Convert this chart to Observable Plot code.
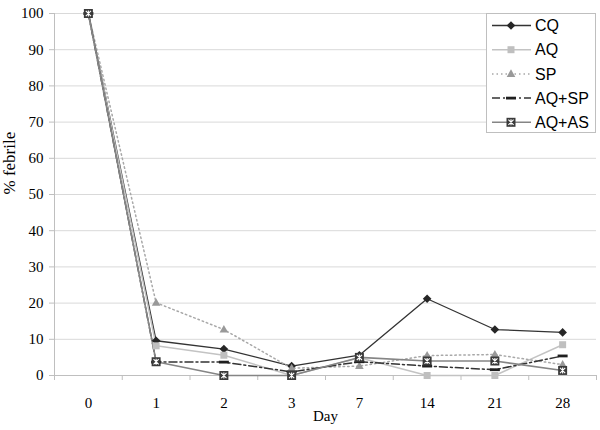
<!DOCTYPE html>
<html><head><meta charset="utf-8">
<script src="https://cdn.jsdelivr.net/npm/d3@7"></script>
<script src="https://cdn.jsdelivr.net/npm/@observablehq/plot@0.6"></script>
<style>
body{margin:0;background:#fff}
#wrap{position:relative;width:600px;height:430px;overflow:hidden}
#legend{position:absolute;left:486px;top:13px}
</style></head><body><div id="wrap"></div>
<script>
// ---- data ----
const days = ["0","1","2","3","7","14","21","28"];
const seriesNames = ["CQ","AQ","SP","AQ+SP","AQ+AS"];
const cq   = [100, 9.6, 7.3, 2.6, 5.6, 21.2, 12.7, 11.9];
const aq   = [100, 8.2, 5.6, 0.0, 4.9, 0.0, 0.0, 8.5];
const sp   = [100, 20.1, 12.7, 2.0, 2.6, 5.5, 5.8, 3.0];
const aqsp = [100, 3.7, 3.7, 1.0, 3.8, 2.6, 1.6, 5.4];
const aqas = [100, 3.8, 0.0, 0.0, 5.0, 4.0, 4.0, 1.4];
const yTicks = [0,10,20,30,40,50,60,70,80,90,100];

const valuesBySeries = {"CQ": cq, "AQ": aq, "SP": sp, "AQ+SP": aqsp, "AQ+AS": aqas};
const rows = seriesNames.flatMap(s => valuesBySeries[s].map((v, i) => ({series: s, idx: i, day: days[i], v})));

// ---- symbols ----
const symDiamond = {draw(c){ const r = 4.3; c.moveTo(0,-r); c.lineTo(r,0); c.lineTo(0,r); c.lineTo(-r,0); c.closePath(); }};
const symSquare7 = {draw(c){ c.rect(-3.5,-3.5,7,7); }};
const symTri = {draw(c){ c.moveTo(0,-4.6); c.lineTo(4.3,3.0); c.lineTo(-4.3,3.0); c.closePath(); }};
const symDash = {draw(c){ c.rect(-5,-1.4,10,2.8); }};
const symSquare9 = {draw(c){ c.rect(-4.5,-4.5,9,9); }};
const symX = {draw(c){ const r = 2.6; c.moveTo(-r,-r); c.lineTo(r,r); c.moveTo(r,-r); c.lineTo(-r,r); c.moveTo(0,-3); c.lineTo(0,3); }};

const styles = {
  "CQ":    {stroke: "#333333", width: 1.3, dash: null,        sym: symDiamond, fill: "#262626"},
  "AQ":    {stroke: "#c3c3c3", width: 1.5, dash: null,        sym: symSquare7, fill: "#bfbfbf"},
  "SP":    {stroke: "#a8a8a8", width: 1.5, dash: "1.5,3",     sym: symTri,     fill: "#999999"},
  "AQ+SP": {stroke: "#333333", width: 1.5, dash: "8,3,2,3",   sym: symDash,    fill: "#1f1f1f"},
  "AQ+AS": {stroke: "#858585", width: 1.6, dash: null,        sym: symSquare9, fill: "#3a3a3a", cross: true}
};

const X = d => d.idx + 0.5;

const marks = [
  Plot.ruleY(yTicks.filter(t => t > 0), {stroke: "#d9d9d9", strokeWidth: 1}),
  Plot.ruleY([0], {stroke: "#bfbfbf"}),
  Plot.ruleX([0], {stroke: "#bfbfbf"}),
  Plot.axisY({ticks: yTicks, tickSize: 5, tickPadding: 6, stroke: "#bfbfbf", fill: "black", label: null, fontSize: 15}),
  Plot.axisX({ticks: d3.range(0, days.length + 1), tickSize: 5, tickFormat: () => "", stroke: "#bfbfbf", label: null}),
  Plot.axisX({ticks: d3.range(0, days.length).map(i => i + 0.5), tickSize: 0, tickPadding: 22, tickFormat: t => days[Math.floor(t)], fill: "black", label: null, fontSize: 15}),
  Plot.text(["Day"], {frameAnchor: "bottom", dy: 45, fontSize: 15, fill: "black"}),
  Plot.text(["% febrile"], {frameAnchor: "left", dx: -45, rotate: -90, fontSize: 17, fill: "black", letterSpacing: "0.8px"})
];

for (const s of seriesNames) {
  const st = styles[s];
  const data = rows.filter(d => d.series === s);
  marks.push(Plot.line(data, {x: X, y: "v", stroke: st.stroke, strokeWidth: st.width, strokeDasharray: st.dash}));
}
for (const s of seriesNames) {
  const st = styles[s];
  const data = rows.filter(d => d.series === s);
  marks.push(Plot.dot(data, {x: X, y: "v", symbol: st.sym, fill: st.fill, stroke: "none", r: 4}));
  if (st.cross) marks.push(Plot.dot(data, {x: X, y: "v", symbol: symX, stroke: "white", strokeWidth: 1.1, fill: "none", r: 3}));
}

const chart = Plot.plot({
  width: 600, height: 430,
  marginLeft: 54, marginRight: 4, marginTop: 13, marginBottom: 55,
  style: {fontFamily: "'Liberation Serif', 'Times New Roman', serif", fontSize: "15px", background: "white", color: "black"},
  x: {type: "linear", domain: [0, days.length], axis: null},
  y: {domain: [0, 100], axis: null},
  marks
});
document.getElementById("wrap").appendChild(chart);

// ---- legend (inside plot area, top right) ----
const lw = 109, lh = 119;
const lg = d3.select("#wrap").append("svg").attr("id", "legend").attr("width", lw + 1).attr("height", lh + 1);
lg.append("rect").attr("x", 0.5).attr("y", 0.5).attr("width", lw).attr("height", lh).attr("fill", "white").attr("stroke", "#bfbfbf");
seriesNames.forEach((s, i) => {
  const st = styles[s];
  const y = 12.5 + i * 24.2;
  const g = lg.append("g").attr("transform", `translate(0,${y})`);
  g.append("line").attr("x1", 6).attr("x2", 45).attr("y1", 0).attr("y2", 0)
    .attr("stroke", st.stroke).attr("stroke-width", st.width).attr("stroke-dasharray", st.dash);
  g.append("path").attr("d", d3.symbol().type(st.sym)()).attr("transform", "translate(25,0)").attr("fill", st.fill);
  if (st.cross) g.append("path").attr("d", d3.symbol().type(symX)()).attr("transform", "translate(25,0)").attr("stroke", "white").attr("stroke-width", 1.1).attr("fill", "none");
  g.append("text").attr("x", 49).attr("y", 0).attr("dy", "0.36em").text(s)
    .attr("font-family", "'Liberation Sans', Arial, sans-serif").attr("font-size", 16).attr("fill", "black");
});
</script>
</body></html>
